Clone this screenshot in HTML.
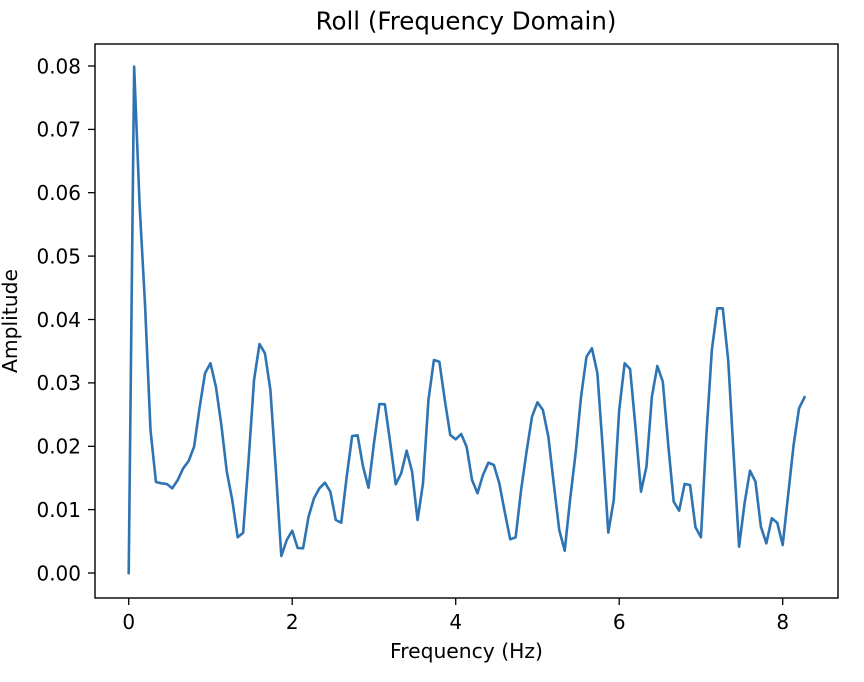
<!DOCTYPE html>
<html>
<head>
<meta charset="utf-8">
<style>
  html, body { margin: 0; padding: 0; background: #ffffff; }
  svg { display: block; }
  text { font-family: "DejaVu Sans", "Liberation Sans", sans-serif; fill: #000; }
</style>
</head>
<body>
<svg width="864" height="682" viewBox="0 0 864 682" xmlns="http://www.w3.org/2000/svg">
  <rect x="0" y="0" width="864" height="682" fill="#ffffff"/>

  <!-- data line -->
  <polyline fill="none" stroke="#2e74b2" stroke-width="2.6" stroke-linejoin="round" stroke-linecap="square"
    points="128.7,573 134.15,66.5 139.6,205 145.05,305 150.5,430 155.95,482 161.4,483.3 166.85,484 172.3,488.3 177.75,480 183.2,468.3 188.65,461 194.1,446.7 199.55,408 205.0,373.3 210.45,363.3 215.9,386.7 221.35,425 226.8,471.7 232.25,500 237.7,537.3 243.15,532.7 248.6,460 254.05,380 259.5,344 264.95,353.3 270.4,390 275.85,470 281.3,556 286.75,540 292.2,530.7 297.65,548 303.1,548.3 308.55,516.7 314.0,498.3 319.45,488.3 324.9,482.7 330.35,491.7 335.8,520 341.25,522.7 346.7,476.7 352.15,436 357.6,435.3 363.05,466.7 368.5,487.7 373.95,443.3 379.4,404 384.85,404.3 390.3,443.3 395.75,484.3 401.2,473.3 406.65,450.7 412.1,471.7 417.55,520 423.0,483.3 428.45,400 433.9,360 439.35,361.7 444.8,400 450.25,435 455.7,439.3 461.15,434 466.6,446.7 472.05,480 477.5,493.3 482.95,475 488.4,462.7 493.85,465 499.3,483.3 504.75,512 510.2,539.3 515.65,537.3 521.1,490 526.55,451.7 532.0,416.7 537.45,402.3 542.9,410 548.35,436.7 553.8,484 559.25,530 564.7,550.7 570.15,499 575.6,453.3 581.05,396.7 586.5,356.7 591.95,348.3 597.4,373.3 602.85,450 608.3,532.7 613.75,500 619.2,410 624.65,363.3 630.1,369 635.55,428 641.0,491.7 646.45,466.7 651.9,396.7 657.35,366 662.8,381.7 668.25,445 673.7,501.7 679.15,510.7 684.6,484 690.05,485 695.5,527.3 700.95,537.3 706.4,435 711.85,350 717.3,308.3 722.75,308.3 728.2,360 733.65,455 739.1,546.7 744.55,503.3 750.0,470.7 755.45,481.7 760.9,526.7 766.35,543.3 771.8,518.3 777.25,522.7 782.7,545 788.15,495 793.6,445 799.05,408.3 804.5,397.3"/>

  <!-- axes frame -->
  <rect x="95" y="44" width="743" height="554" fill="none" stroke="#000" stroke-width="1.4"/>

  <!-- y ticks -->
  <g stroke="#000" stroke-width="1.3">
    <line x1="88" y1="573" x2="95" y2="573"/>
    <line x1="88" y1="509.6" x2="95" y2="509.6"/>
    <line x1="88" y1="446.3" x2="95" y2="446.3"/>
    <line x1="88" y1="382.9" x2="95" y2="382.9"/>
    <line x1="88" y1="319.5" x2="95" y2="319.5"/>
    <line x1="88" y1="256.1" x2="95" y2="256.1"/>
    <line x1="88" y1="192.7" x2="95" y2="192.7"/>
    <line x1="88" y1="129.4" x2="95" y2="129.4"/>
    <line x1="88" y1="66" x2="95" y2="66"/>
  </g>
  <g font-size="20" text-anchor="end">
    <text x="81" y="580.3">0.00</text>
    <text x="81" y="516.9">0.01</text>
    <text x="81" y="453.6">0.02</text>
    <text x="81" y="390.2">0.03</text>
    <text x="81" y="326.8">0.04</text>
    <text x="81" y="263.4">0.05</text>
    <text x="81" y="200">0.06</text>
    <text x="81" y="136.7">0.07</text>
    <text x="81" y="73.3">0.08</text>
  </g>

  <!-- x ticks -->
  <g stroke="#000" stroke-width="1.3">
    <line x1="128.7" y1="598" x2="128.7" y2="605"/>
    <line x1="292.2" y1="598" x2="292.2" y2="605"/>
    <line x1="455.7" y1="598" x2="455.7" y2="605"/>
    <line x1="619.2" y1="598" x2="619.2" y2="605"/>
    <line x1="782.7" y1="598" x2="782.7" y2="605"/>
  </g>
  <g font-size="20" text-anchor="middle">
    <text x="128.7" y="629">0</text>
    <text x="292.2" y="629">2</text>
    <text x="455.7" y="629">4</text>
    <text x="619.2" y="629">6</text>
    <text x="782.7" y="629">8</text>
  </g>

  <!-- labels -->
  <text x="466.5" y="658" font-size="20.3" text-anchor="middle">Frequency (Hz)</text>
  <text transform="translate(17,321) rotate(-90)" font-size="20.3" text-anchor="middle">Amplitude</text>
  <text x="466" y="29.5" font-size="24.5" text-anchor="middle">Roll (Frequency Domain)</text>
</svg>
</body>
</html>
